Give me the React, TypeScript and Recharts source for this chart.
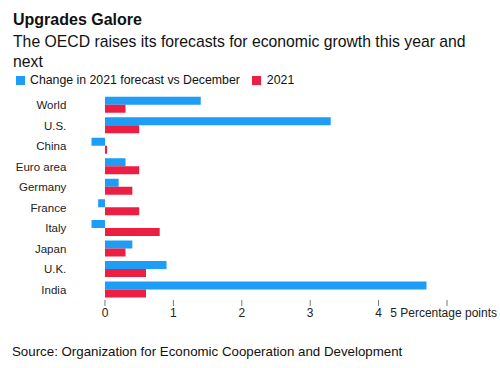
import { BarChart, Bar, XAxis, YAxis } from 'recharts';

const countries = ['World', 'U.S.', 'China', 'Euro area', 'Germany', 'France', 'Italy', 'Japan', 'U.K.', 'India'];
const changeVsDecember = [1.4, 3.3, -0.2, 0.3, 0.2, -0.1, -0.2, 0.4, 0.9, 4.7];
const forecast2021 = [0.3, 0.5, 0.03, 0.5, 0.4, 0.5, 0.8, 0.3, 0.6, 0.6];
const xTicks = [0, 1, 2, 3, 4, 5];

const seriesNames = ['Change in 2021 forecast vs December', '2021'];
const BLUE = '#1d9df5';
const RED = '#ec1f42';
const FONT = '"Liberation Sans", Arial, Helvetica, sans-serif';

const chartData = countries.map((name, i) => ({
  name,
  change: changeVsDecember[i],
  y2021: forecast2021[i],
}));

const XTick = (props: any) => {
  const { x, y, payload } = props;
  const last = payload.value === xTicks[xTicks.length - 1];
  return (
    <g>
      <line x1={x} x2={x} y1={y - 8} y2={y - 2} stroke="#777" strokeWidth={1} />
      {last ? (
        <text x={497} y={y + 9} textAnchor="end" fontSize={12} fill="#222" fontFamily={FONT}>
          {payload.value} Percentage points
        </text>
      ) : (
        <text x={x} y={y + 9} textAnchor="middle" fontSize={12} fill="#222" fontFamily={FONT}>
          {payload.value}
        </text>
      )}
    </g>
  );
};

export default function App() {
  return (
    <div style={{ position: 'absolute', left: 0, top: 0, width: 500, height: 368, background: '#fff', fontFamily: FONT, color: '#111' }}>
      <div style={{ position: 'absolute', left: 13, top: 11, fontSize: 16, fontWeight: 700 }}>Upgrades Galore</div>
      <div style={{ position: 'absolute', left: 13, top: 32, width: 480, fontSize: 15.75, lineHeight: '20px' }}>
        The OECD raises its forecasts for economic growth this year and next
      </div>
      <div style={{ position: 'absolute', left: 16, top: 73, fontSize: 12.3, display: 'flex', alignItems: 'center' }}>
        <span style={{ width: 9, height: 9, background: BLUE, display: 'inline-block', marginRight: 5 }} />
        <span style={{ marginRight: 12 }}>{seriesNames[0]}</span>
        <span style={{ width: 9, height: 9, background: RED, display: 'inline-block', marginRight: 6 }} />
        <span>{seriesNames[1]}</span>
      </div>
      <div style={{ position: 'absolute', left: 0, top: 0 }}>
        <BarChart
          width={500}
          height={330}
          data={chartData}
          layout="vertical"
          margin={{ top: 94.7, right: 53, bottom: 0, left: 0 }}
          barCategoryGap={2}
          barGap={0}
        >
          <XAxis
            type="number"
            domain={[-0.2, 5]}
            ticks={xTicks}
            allowDataOverflow
            axisLine={false}
            tickLine={false}
            height={30}
            tick={<XTick />}
          />
          <YAxis
            type="category"
            dataKey="name"
            width={91.3}
            axisLine={false}
            tickLine={false}
            tickMargin={19}
            tick={{ fontSize: 11.5, fill: '#222', fontFamily: FONT }}
          />
          <Bar dataKey="change" name={seriesNames[0]} fill={BLUE} isAnimationActive={false} />
          <Bar dataKey="y2021" name={seriesNames[1]} fill={RED} isAnimationActive={false} />
        </BarChart>
      </div>
      <div style={{ position: 'absolute', left: 12, top: 344, fontSize: 13.3 }}>
        Source: Organization for Economic Cooperation and Development
      </div>
    </div>
  );
}
